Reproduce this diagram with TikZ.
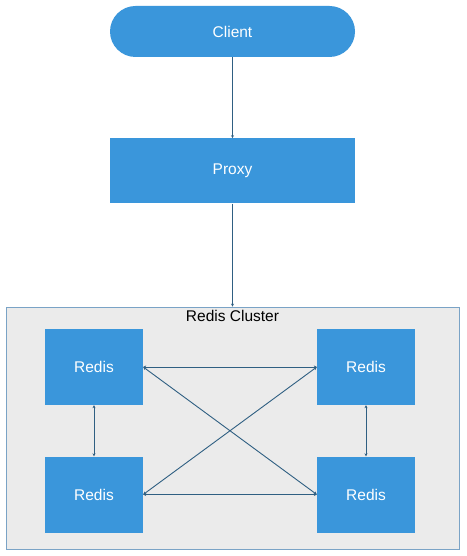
\documentclass[tikz,border=0pt]{standalone}
\usepackage{fontspec}
\setmainfont{Liberation Sans}
\usepackage{xcolor}
\usetikzlibrary{positioning,arrows.meta}

\definecolor{boxblue}{HTML}{3A96DB}
\definecolor{linkblue}{HTML}{2F5F82}
\definecolor{clustergray}{HTML}{EBEBEB}
\definecolor{clusterline}{HTML}{7AA3C6}

\tikzset{
    blockbox/.style={rectangle, fill=boxblue, text=white, minimum width=245pt, font=\fontsize{15.5}{18}\selectfont},
    redisbox/.style={rectangle, fill=boxblue, text=white, minimum width=98pt, minimum height=76pt, font=\fontsize{15.5}{18}\selectfont},
    link/.style={draw=linkblue, line width=0.9pt, -{Stealth[length=3pt,width=3pt]}},
    twoway/.style={draw=linkblue, line width=0.9pt, {Stealth[length=3pt,width=3pt]}-{Stealth[length=3pt,width=3pt]}},
}

\begin{document}
\begin{tikzpicture}[x=1pt, y=-1pt]
    \useasboundingbox (0,0) rectangle (466,556);
    \fill[white] (0,0) rectangle (466,556);

    \node[blockbox, minimum height=51pt, rounded corners=25.5pt] (client) at (232.5,31.5) {Client};
    \node[blockbox, minimum height=65pt, below=81pt of client] (proxy) {Proxy};

    % cluster frame
    \node[rectangle, draw=clusterline, fill=clustergray, line width=0.8pt, minimum width=453pt, minimum height=242pt] (cluster) at (232.5,428) {};
    \node[below=0pt of cluster.north, font=\fontsize{15.5}{18}\selectfont] (clustername) {Redis Cluster};

    \node[redisbox] (redisA) at (94,367) {Redis};
    \node[redisbox] (redisB) at (366,367) {Redis};
    \node[redisbox] (redisC) at (94,494.5) {Redis};
    \node[redisbox] (redisD) at (366,494.5) {Redis};

    \draw[link] (client) -- (proxy);
    \draw[link] (proxy) -- (cluster.north);

    \draw[twoway] (redisA.east) -- (redisB.west);
    \draw[twoway] (redisC.east) -- (redisD.west);
    \draw[twoway] (redisA.east) -- (redisD.west);
    \draw[twoway] (redisC.east) -- (redisB.west);
    \draw[twoway] (redisA) -- (redisC);
    \draw[twoway] (redisB) -- (redisD);
\end{tikzpicture}
\end{document}
